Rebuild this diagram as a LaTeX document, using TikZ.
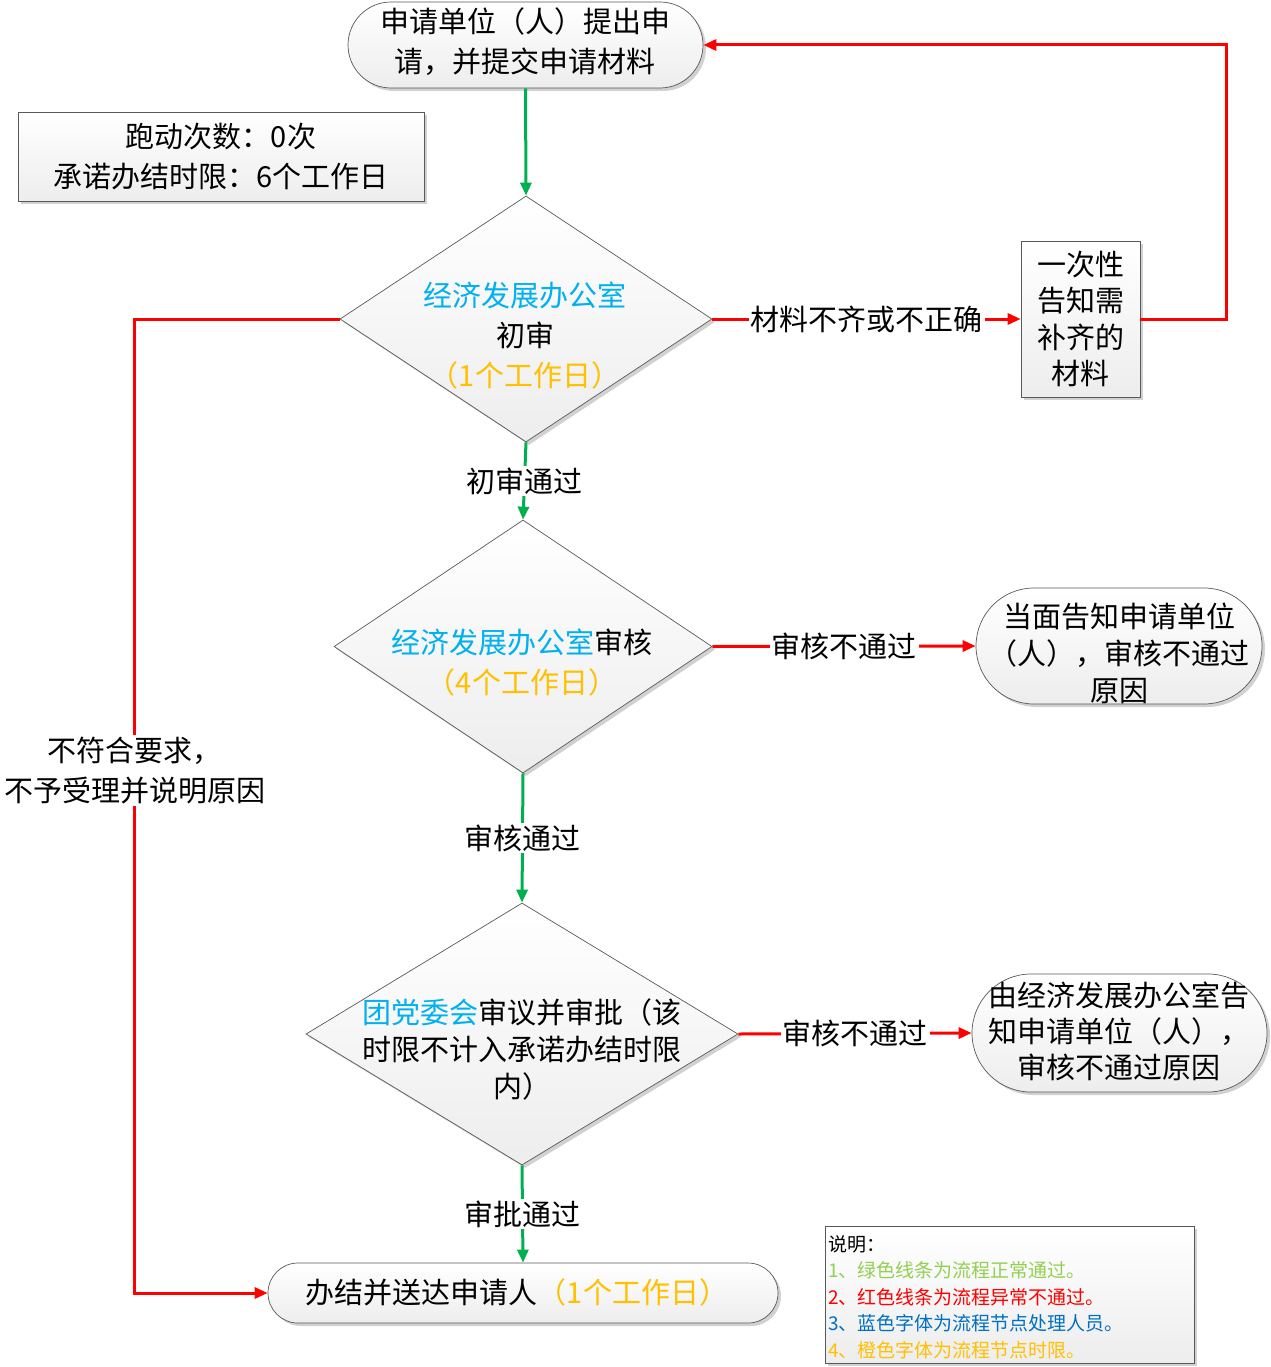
\documentclass[tikz,border=0pt]{standalone}
\usepackage{fontspec}
\setmainfont{Noto Sans CJK SC}
\usetikzlibrary{shapes.geometric,shapes.misc,shadows,arrows.meta}
\definecolor{lgreen}{RGB}{0,176,80}
\definecolor{tblue}{RGB}{0,176,240}
\definecolor{torange}{RGB}{255,192,0}
\definecolor{lgnote}{RGB}{146,208,80}
\definecolor{lbnote}{RGB}{0,112,192}
\begin{document}
\begin{tikzpicture}[x=1pt,y=-1pt,
  font=\fontsize{29}{40}\selectfont,
  box/.style={draw=black!65, line width=0.7pt, top color=white, bottom color=black!7,
    drop shadow={shadow xshift=3pt,shadow yshift=-3pt,fill=black!18,opacity=1}},
  stadium/.style={box, rounded rectangle, inner sep=0pt},
  dia/.style={box, diamond, inner sep=0pt},
  txt/.style={align=center, inner sep=0pt},
  grn/.style={draw=lgreen, line width=3pt, -{Triangle[length=13pt,width=11pt]}},
  rd/.style={draw=red, line width=3pt, -{Triangle[length=13pt,width=11pt]}},
  lbl/.style={fill=white, inner sep=2pt, text=black}]
\useasboundingbox (0,0) rectangle (1270,1367);

% nodes
\node[stadium, minimum width=355pt, minimum height=86pt] (start) at (525.5,45) {};
\node[txt, font=\fontsize{29}{40}\selectfont] (starttxt) at (525,42) {申请单位（人）提出申\\请，并提交申请材料};

\node[box, minimum width=406pt, minimum height=89pt, align=center, inner sep=0pt,
  font=\fontsize{29}{40}\selectfont] (info) at (221,156.5) {跑动次数：0次\\承诺办结时限：6个工作日};

\node[dia, minimum width=372pt, minimum height=246pt] (d1) at (526,319) {};
\node[txt, font=\fontsize{29}{40}\selectfont] (d1t) at (525,336)
  {{\color{tblue}经济发展办公室}\\初审\\{\color{torange}（1个工作日）}};

\node[box, minimum width=119pt, minimum height=156pt, inner sep=0pt, align=center,
  font=\fontsize{29}{36.5}\selectfont] (once) at (1080.5,319) {一次性\\告知需\\补齐的\\材料};

\node[dia, minimum width=378pt, minimum height=253pt] (d2) at (523,646.5) {};
\node[txt] (d2t) at (522,663)
  {{\color{tblue}经济发展办公室}审核\\{\color{torange}（4个工作日）}};

\node[stadium, minimum width=286pt, minimum height=116pt] (s2) at (1119,646) {};
\node[txt, font=\fontsize{29}{37}\selectfont] (s2t) at (1119,653)
  {当面告知申请单位\\（人），审核不通过\\原因};

\node[dia, minimum width=432pt, minimum height=262pt] (d3) at (522,1034) {};
\node[txt, font=\fontsize{29}{37}\selectfont] (d3t) at (522,1049)
  {{\color{tblue}团党委会}审议并审批（该\\时限不计入承诺办结时限\\内）};

\node[stadium, minimum width=295pt, minimum height=118pt] (s3) at (1119.5,1033) {};
\node[txt, font=\fontsize{29}{36}\selectfont] (s3t) at (1119,1031)
  {由经济发展办公室告\\知申请单位（人），\\审核不通过原因};

\node[stadium, minimum width=510pt, minimum height=60pt] (final) at (523,1293) {};
\node[txt] (finalt) at (517,1292) {办结并送达申请人{\color{torange}（1个工作日）}};

\node[box, minimum width=369pt, minimum height=137pt, inner sep=0pt] (legend) at (1009.5,1294.5) {};
\node[anchor=west, align=left, inner sep=0pt, font=\fontsize{19}{26.5}\selectfont] (legendt) at (828,1297)
  {说明：\\
   {\color{lgnote}1、绿色线条为流程正常通过。}\\
   {\color{red}2、红色线条为流程异常不通过。}\\
   {\color{lbnote}3、蓝色字体为流程节点处理人员。}\\
   {\color{torange}4、橙色字体为流程节点时限。}};

% connectors
\draw[grn] (start.south) -- (d1.north);
\draw[grn] (d1.south) -- node[lbl] (l1) {初审通过} (d2.north);
\draw[grn] (d2.south) -- node[lbl] (l2) {审核通过} (d3.north);
\draw[grn] (d3.south) -- node[lbl] (l3) {审批通过} (final.north);

\draw[rd] (d1.east) -- node[lbl] (l4) {材料不齐或不正确} (once.west);
\draw[rd] (once.east) -- ++(86,0) |- (start.east);
\draw[rd] (d2.east) -- node[lbl] (l5) {审核不通过} (s2.west);
\draw[rd] (d3.east) -- node[lbl] (l6) {审核不通过} (s3.west);
\draw[rd] (d1.west) -- ++(-205,0) |- node[lbl, pos=0.232, align=center,
  font=\fontsize{29}{40}\selectfont] (l7) {不符合要求，\\不予受理并说明原因} (final.west);
\end{tikzpicture}
\end{document}
